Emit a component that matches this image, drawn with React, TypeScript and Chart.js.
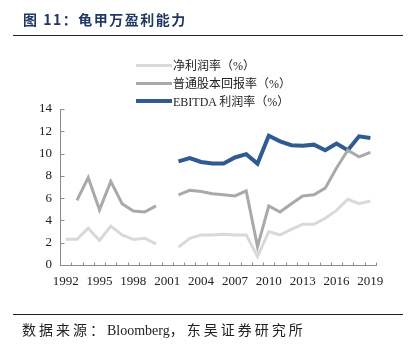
import React, { useEffect, useRef } from "react";
import { Chart, registerables } from "chart.js";

Chart.register(...registerables);

const years = [
  "1992", "1993", "1994", "1995", "1996", "1997", "1998", "1999", "2000", "2001",
  "2002", "2003", "2004", "2005", "2006", "2007", "2008", "2009", "2010", "2011",
  "2012", "2013", "2014", "2015", "2016", "2017", "2018", "2019",
];

const netMargin = [
  2.3, 2.3, 3.3, 2.2, 3.5, 2.7, 2.3, 2.4, 1.9, null,
  1.6, 2.4, 2.7, 2.7, 2.75, 2.7, 2.7, 0.75, 3.0, 2.7,
  3.2, 3.65, 3.65, 4.2, 4.9, 5.9, 5.5, 5.75,
];

const roe = [
  null, 5.8, 7.85, 4.95, 7.5, 5.5, 4.85, 4.75, 5.3, null,
  6.3, 6.7, 6.6, 6.4, 6.3, 6.2, 6.65, 1.65, 5.3, 4.75,
  5.5, 6.2, 6.3, 6.9, 8.7, 10.3, 9.7, 10.1,
];

const ebitda = [
  null, null, null, null, null, null, null, null, null, null,
  9.3, 9.6, 9.25, 9.1, 9.1, 9.65, 9.95, 9.1, 11.6, 11.1,
  10.75, 10.7, 10.8, 10.3, 10.9, 10.3, 11.55, 11.4,
];

const seriesNames = ["净利润率（%）", "普通股本回报率（%）", "EBITDA 利润率（%）"];
const seriesColors = ["#d9d9d9", "#a9a9a9", "#2f5a92"];
const seriesWidths = [3, 3, 4];

const yMin = 0;
const yMax = 14;
const yStep = 2;

const tickMarks = {
  id: "tickMarks",
  afterDraw(chart: any) {
    const ctx = chart.ctx;
    const xs = chart.scales.x;
    const ys = chart.scales.y;
    ctx.save();
    ctx.strokeStyle = "#8c8c8c";
    ctx.lineWidth = 1;
    const n = years.length;
    const step = xs.getPixelForValue(1) - xs.getPixelForValue(0);
    const yb = Math.round(ys.getPixelForValue(yMin)) + 0.5;
    ctx.beginPath();
    for (let i = 0; i <= n; i++) {
      const x = Math.round(xs.getPixelForValue(i) - step / 2) + 0.5;
      ctx.moveTo(x, yb);
      ctx.lineTo(x, yb - 3);
    }
    const xl = Math.round(xs.left) + 0.5;
    for (let v = yMin; v <= yMax; v += yStep) {
      const y = Math.round(ys.getPixelForValue(v)) + 0.5;
      ctx.moveTo(xl, y);
      ctx.lineTo(xl + 4, y);
    }
    ctx.stroke();
    ctx.restore();
  },
};

export default function App() {
  const ref = useRef<HTMLCanvasElement | null>(null);

  useEffect(() => {
    document.body.style.margin = "0";
    if (!ref.current) return;
    const font = { family: "'Liberation Serif', 'Times New Roman', serif", size: 13 };
    const chart = new Chart(ref.current, {
      type: "line",
      data: {
        labels: years,
        datasets: [netMargin, roe, ebitda].map((d, i) => ({
          label: seriesNames[i],
          data: d,
          borderColor: seriesColors[i],
          backgroundColor: seriesColors[i],
          borderWidth: seriesWidths[i],
          pointRadius: 0,
          tension: 0,
          spanGaps: false,
          fill: false,
        })),
      },
      options: {
        responsive: false,
        animation: false,
        layout: { padding: { left: 0, right: 36, top: 109, bottom: 0 } },
        plugins: {
          legend: { display: false },
          tooltip: { enabled: false },
        },
        scales: {
          x: {
            type: "category",
            offset: true,
            grid: { display: true, drawOnChartArea: false, drawTicks: false, offset: true },
            border: { display: true, color: "#8c8c8c", width: 1 },
            ticks: {
              autoSkip: false,
              maxRotation: 0,
              padding: 9,
              color: "#222",
              font,
              callback: (_v: any, i: number) => (i % 3 === 0 ? years[i] : ""),
            },
            afterFit: (s: any) => {
              s.height = 87;
            },
          },
          y: {
            min: yMin,
            max: yMax,
            grid: { display: true, drawOnChartArea: false, drawTicks: false },
            border: { display: true, color: "#8c8c8c", width: 1 },
            ticks: { stepSize: yStep, padding: 8, color: "#222", font },
            afterFit: (s: any) => {
              s.width = 60;
            },
          },
        },
      },
      plugins: [tickMarks],
    });
    return () => chart.destroy();
  }, []);

  const cjk = "'Noto Sans CJK SC', sans-serif";
  const serif = "'Liberation Serif', 'Noto Sans CJK SC', serif";

  return (
    <div style={{ position: "fixed", left: 0, top: 0, width: 412, height: 352, background: "#fff", overflow: "hidden" }}>
      <canvas ref={ref} width={412} height={352} style={{ position: "absolute", left: 0, top: 0, width: 412, height: 352, display: "block" }} />
      <div
        style={{
          position: "absolute",
          left: 23,
          top: 9,
          fontFamily: cjk,
          fontWeight: 700,
          fontSize: 14,
          letterSpacing: 1.5,
          color: "#1f3864",
          whiteSpace: "nowrap",
          lineHeight: "20px",
        }}
      >
        图 11：龟甲万盈利能力
      </div>
      <div style={{ position: "absolute", left: 13, top: 35, width: 390, height: 0, borderTop: "1.5px solid #222" }} />
      <div style={{ position: "absolute", left: 136, top: 56 }}>
        {seriesNames.map((n, i) => (
          <div key={n} style={{ display: "flex", alignItems: "center", height: 18 }}>
            <div style={{ width: 36, height: seriesWidths[i], background: seriesColors[i] }} />
            <span style={{ fontFamily: serif, fontSize: 12, color: "#222", whiteSpace: "nowrap", marginLeft: 1 }}>{n}</span>
          </div>
        ))}
      </div>
      <div style={{ position: "absolute", left: 13, top: 314, width: 390, height: 0, borderTop: "1.5px solid #222" }} />
      <div
        style={{
          position: "absolute",
          left: 22,
          top: 319,
          fontFamily: serif,
          fontSize: 14,
          color: "#222",
          whiteSpace: "nowrap",
          lineHeight: "20px",
        }}
      >
        <span style={{ fontFamily: cjk, letterSpacing: 3 }}>数据来源：</span>
        <span>Bloomberg</span>
        <span style={{ fontFamily: cjk, letterSpacing: 3 }}>，东吴证券研究所</span>
      </div>
    </div>
  );
}
